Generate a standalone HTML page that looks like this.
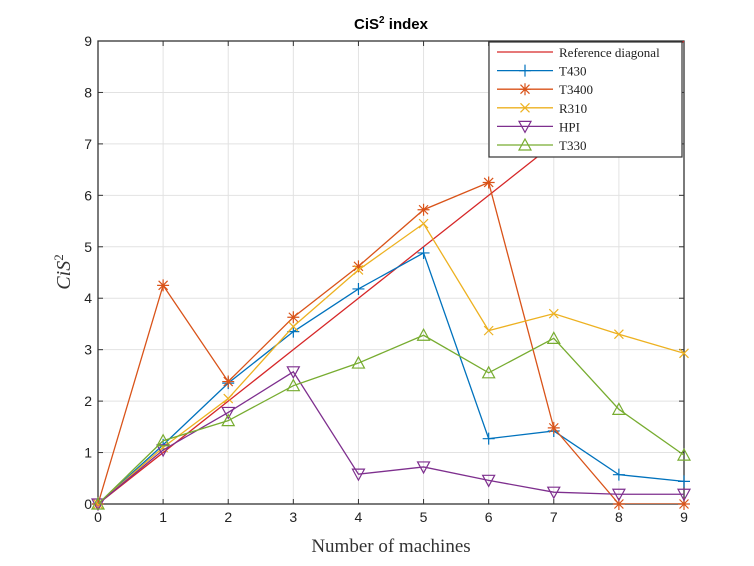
<!DOCTYPE html>
<html><head><meta charset="utf-8"><style>
body{margin:0;background:#fff;width:754px;height:566px;overflow:hidden}
svg{display:block}
</style></head><body>
<svg id="chart" width="754" height="566" xmlns="http://www.w3.org/2000/svg"></svg>
<script>
const xs=[0,1,2,3,4,5,6,7,8,9];
const yTicks=[0,1,2,3,4,5,6,7,8,9];
const refDiag=[0,1,2,3,4,5,6,7,8,9];
const t430=[0,1.15,2.35,3.35,4.18,4.88,1.27,1.42,0.57,0.44];
const t3400=[0,4.25,2.38,3.63,4.62,5.72,6.25,1.48,0,0];
const r310=[0,1.1,2.05,3.45,4.55,5.45,3.37,3.7,3.3,2.93];
const hpi=[0,1.05,1.78,2.57,0.58,0.72,0.46,0.23,0.19,0.19];
const t330=[0,1.23,1.62,2.3,2.74,3.28,2.55,3.22,1.84,0.95];
const seriesNames=["Reference diagonal","T430","T3400","R310","HPI","T330"];

const L=98,R=684,T=41,B=504;
const sx=v=>L+(v-0)/9*(R-L);
const sy=v=>B-(v-0)/9*(B-T);
const NS="http://www.w3.org/2000/svg";
const svg=document.getElementById('chart');
function mk(tag,attrs,parent){const e=document.createElementNS(NS,tag);for(const k in attrs)e.setAttribute(k,attrs[k]);(parent||svg).appendChild(e);return e;}

const defs=mk('defs',{});
const cp=mk('clipPath',{id:'clip'},defs);mk('rect',{x:L,y:T,width:R-L,height:B-T},cp);

// grid
const grid=mk('g',{});


xs.forEach(v=>mk('line',{x1:sx(v),x2:sx(v),y1:T,y2:B,stroke:'#e2e2e2','stroke-width':1},grid));
yTicks.forEach(v=>mk('line',{x1:L,x2:R,y1:sy(v),y2:sy(v),stroke:'#e2e2e2','stroke-width':1},grid));

// axes box
const box=mk('rect',{x:L,y:T,width:R-L,height:B-T,fill:'none',stroke:'#333','stroke-width':1.3});



// ticks & labels
const xt=mk('g',{'font-family':'Liberation Sans, sans-serif','font-size':14,fill:'#222','text-anchor':'middle'});


xs.forEach(v=>{mk('line',{x1:sx(v),x2:sx(v),y1:B,y2:B-5,stroke:'#333'},xt);mk('line',{x1:sx(v),x2:sx(v),y1:T,y2:T+5,stroke:'#333'},xt);const t=mk('text',{x:sx(v),y:B+18},xt);t.textContent=v;});
const yt=mk('g',{'font-family':'Liberation Sans, sans-serif','font-size':14,fill:'#222','text-anchor':'end'});


yTicks.forEach(v=>{mk('line',{x1:L,x2:L+5,y1:sy(v),y2:sy(v),stroke:'#333'},yt);mk('line',{x1:R,x2:R-5,y1:sy(v),y2:sy(v),stroke:'#333'},yt);const t=mk('text',{x:L-6,y:sy(v)+5},yt);t.textContent=v;});

// titles
const title=mk('text',{x:391,y:29,'font-family':'Liberation Sans, sans-serif','font-size':15,'font-weight':'bold','text-anchor':'middle',fill:'#000'});
title.innerHTML='CiS<tspan dy="-6" font-size="10">2</tspan><tspan dy="6"> index</tspan>';


const xl=mk('text',{x:391,y:552,'font-family':'Liberation Serif, serif','font-size':19,'text-anchor':'middle',fill:'#333'});
xl.textContent='Number of machines';


const yl=mk('text',{x:0,y:0,'font-family':'Liberation Serif, serif','font-size':20,'font-style':'italic','text-anchor':'middle',fill:'#333',transform:'translate(70,272) rotate(-90)'});
yl.innerHTML='CiS<tspan dy="-7" font-size="13" font-style="normal">2</tspan>';



function marker(g,type,x,y,c){
  if(type==='plus'){mk('path',{d:`M${x-6} ${y}H${x+6}M${x} ${y-6}V${y+6}`,stroke:c,'stroke-width':1.2},g);}
  else if(type==='star'){mk('path',{d:`M${x-6} ${y}H${x+6}M${x} ${y-6}V${y+6}M${x-4.5} ${y-4.5}L${x+4.5} ${y+4.5}M${x-4.5} ${y+4.5}L${x+4.5} ${y-4.5}`,stroke:c,'stroke-width':1.2},g);}
  else if(type==='x'){mk('path',{d:`M${x-4.5} ${y-4.5}L${x+4.5} ${y+4.5}M${x-4.5} ${y+4.5}L${x+4.5} ${y-4.5}`,stroke:c,'stroke-width':1.2},g);}
  else if(type==='tdown'){mk('path',{d:`M${x-6} ${y-5}H${x+6}L${x} ${y+6}Z`,stroke:c,fill:'none','stroke-width':1.2},g);}
  else if(type==='tup'){mk('path',{d:`M${x-6} ${y+5}H${x+6}L${x} ${y-6}Z`,stroke:c,fill:'none','stroke-width':1.2},g);}
}
const series=[
 {name:'reference-diagonal',data:refDiag,c:'#d62728',m:null},
 {name:'series-t430',data:t430,c:'#0072bd',m:'plus'},
 {name:'series-t3400',data:t3400,c:'#d95319',m:'star'},
 {name:'series-r310',data:r310,c:'#edb120',m:'x'},
 {name:'series-hpi',data:hpi,c:'#7e2f8e',m:'tdown'},
 {name:'series-t330',data:t330,c:'#77ac30',m:'tup'}
];
series.forEach(s=>{
  const g=mk('g',{});
  
  
  const pts=s.data.map((v,i)=>sx(xs[i])+','+sy(v)).join(' ');
  mk('polyline',{points:pts,fill:'none',stroke:s.c,'stroke-width':1.3,'clip-path':'url(#clip)'},g);
  if(s.m)s.data.forEach((v,i)=>marker(g,s.m,sx(xs[i]),sy(v),s.c));
});

// legend
const lg=mk('g',{});


mk('rect',{x:489,y:42,width:193,height:115,fill:'#fff',stroke:'#333','stroke-width':1.2},lg);
series.forEach((s,i)=>{
  const y=52+i*18.6;
  const e=mk('g',{},lg);
  
  
  mk('line',{x1:497,x2:553,y1:y,y2:y,stroke:s.c,'stroke-width':1.3},e);
  if(s.m)marker(e,s.m,525,y,s.c);
  const t=mk('text',{x:559,y:y+5,'font-family':'Liberation Serif, serif','font-size':13,fill:'#222'},e);
  t.textContent=seriesNames[i];
});
</script>
</body></html>
